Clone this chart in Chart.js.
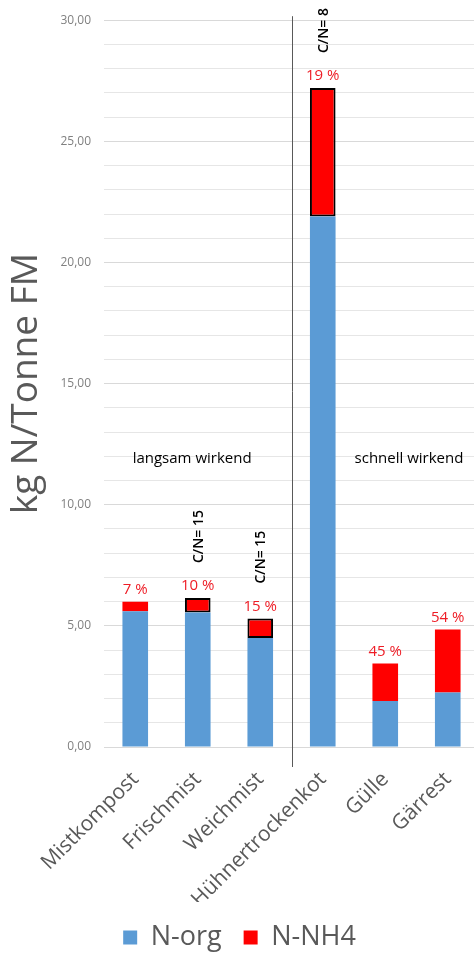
<!DOCTYPE html>
<html>
<head>
<meta charset="utf-8">
<script src="https://cdn.jsdelivr.net/npm/chart.js@4"></script>
<style>
  html, body { margin: 0; padding: 0; background: #fff; overflow: hidden; }
  #wrap { width: 479px; height: 965px; }
</style>
</head>
<body>
<div id="wrap"><canvas id="chart"></canvas></div>
<script>
const categories = ["Mistkompost", "Frischmist", "Weichmist", "Hühnertrockenkot", "Gülle", "Gärrest"];
const nOrg = [5.6, 5.55, 4.5, 21.9, 1.9, 2.25];
const nNH4 = [0.4, 0.6, 0.8, 5.3, 1.55, 2.6];
const nh4Percent = [7, 10, 15, 19, 45, 54];
const cnRatio = [null, 15, 15, 8, null, null];
const groupNotes = [
  { text: "langsam wirkend", at: 0.91, y: 11.9 },
  { text: "schnell wirkend", at: 4.38, y: 11.9 }
];

Chart.defaults.font.family = "'Open Sans', sans-serif";

// percent + C/N labels, group captions and the divider line
const annotations = {
  id: "annotations",
  afterDatasetsDraw(chart) {
    const ctx = chart.ctx;
    const xs = chart.scales.x;
    const ys = chart.scales.y;
    const top = chart.getDatasetMeta(1).data;
    ctx.save();

    top.forEach((bar, i) => {
      ctx.fillStyle = "#ee1c25";
      ctx.font = "15px 'Open Sans', sans-serif";
      ctx.textAlign = "center";
      ctx.textBaseline = "middle";
      ctx.fillText(nh4Percent[i] + " %", bar.x, bar.y - 12);

      if (cnRatio[i] != null) {
        ctx.save();
        ctx.translate(bar.x + 1, bar.y - 35);
        ctx.rotate(-Math.PI / 2);
        ctx.fillStyle = "#000";
        ctx.font = "600 14px 'Open Sans', sans-serif";
        ctx.textAlign = "left";
        ctx.textBaseline = "middle";
        ctx.fillText("C/N= " + cnRatio[i], 0, 0);
        ctx.restore();
      }
    });

    ctx.fillStyle = "#000";
    ctx.font = "15px 'Open Sans', sans-serif";
    ctx.textAlign = "center";
    ctx.textBaseline = "middle";
    groupNotes.forEach((n) => {
      ctx.fillText(n.text, xs.getPixelForValue(n.at), ys.getPixelForValue(n.y));
    });

    const xDiv = (xs.getPixelForValue(2) + xs.getPixelForValue(3)) / 2;
    ctx.strokeStyle = "#595959";
    ctx.lineWidth = 1;
    ctx.beginPath();
    ctx.moveTo(Math.round(xDiv) + 0.5, chart.chartArea.top - 4);
    ctx.lineTo(Math.round(xDiv) + 0.5, chart.chartArea.bottom + 20);
    ctx.stroke();
    ctx.restore();
  }
};

new Chart(document.getElementById("chart"), {
  type: "bar",
  data: {
    labels: categories,
    datasets: [
      {
        label: "N-org",
        data: nOrg,
        backgroundColor: "#5b9bd5",
        borderWidth: 0,
        barPercentage: 0.41,
        categoryPercentage: 1
      },
      {
        label: "N-NH4",
        data: nNH4,
        backgroundColor: "#ff0000",
        borderColor: "#000",
        borderWidth: cnRatio.map((c) => (c != null ? 2 : 0)),
        borderSkipped: false,
        barPercentage: 0.41,
        categoryPercentage: 1
      }
    ]
  },
  options: {
    responsive: true,
    maintainAspectRatio: false,
    animation: false,
    layout: { padding: { top: 14, right: 0, left: 0, bottom: 4 } },
    plugins: {
      tooltip: { enabled: false },
      legend: {
        position: "bottom",
        labels: {
          boxWidth: 14,
          boxHeight: 14,
          padding: 22,
          color: "#595959",
          font: { size: 27 }
        }
      }
    },
    scales: {
      x: {
        stacked: true,
        grid: { display: false },
        border: { display: false },
        ticks: {
          color: "#595959",
          font: { size: 21 },
          maxRotation: 45,
          minRotation: 45,
          padding: 12
        },
        afterFit: (scale) => { scale.height = 155; }
      },
      y: {
        stacked: true,
        min: 0,
        max: 30,
        border: { display: false },
        grid: {
          drawTicks: false,
          color: (c) => (c.tick.value % 5 === 0 ? "#d9d9d9" : "#e6e6e6")
        },
        ticks: {
          stepSize: 1,
          autoSkip: false,
          padding: 13,
          color: "#808080",
          font: { size: 12 },
          callback: (v) => (v % 5 === 0 ? v.toFixed(2).replace(".", ",") : "")
        },
        title: {
          display: true,
          text: "kg N/Tonne FM",
          color: "#595959",
          font: { size: 37 },
          padding: { top: 4, bottom: 0 }
        },
        afterFit: (scale) => { scale.width = 104; }
      }
    }
  },
  plugins: [annotations]
});
</script>
</body>
</html>
